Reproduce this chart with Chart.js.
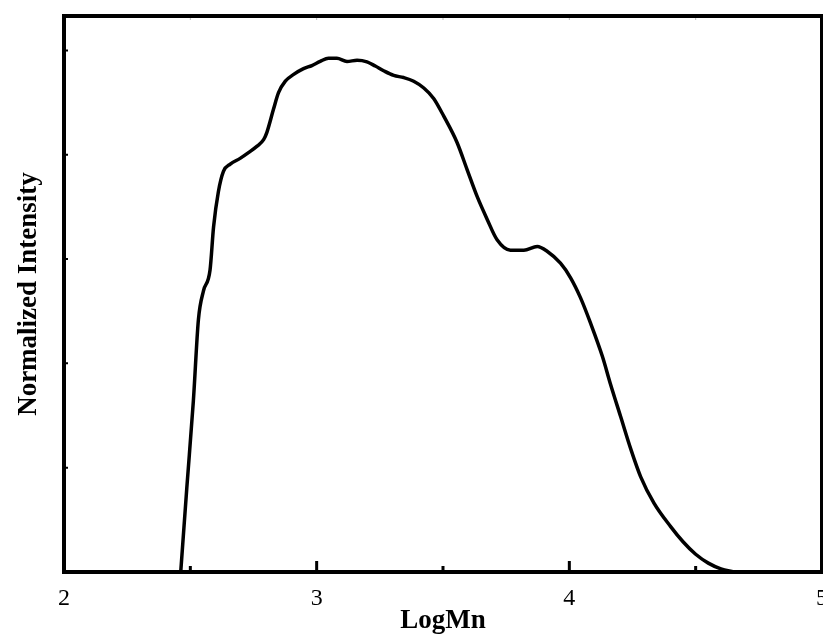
<!DOCTYPE html>
<html lang="en">
<head>
<meta charset="UTF-8">
<title>Normalized Intensity vs LogMn</title>
<script src="https://cdn.jsdelivr.net/npm/chart.js@4.4.0/dist/chart.umd.min.js"></script>
<style>
  html, body { margin: 0; padding: 0; background: #fff; overflow: hidden; }
  #wrap { width: 840px; height: 635px; }
</style>
</head>
<body>
<div id="wrap"><canvas id="gpc" width="840" height="635"></canvas></div>
<script>
// values
const logMn = [2.462, 2.486, 2.512, 2.532, 2.552, 2.578, 2.592, 2.611, 2.631, 2.658, 2.697, 2.730, 2.763, 2.790,
  2.803, 2.829, 2.849, 2.876, 2.909, 2.948, 2.981, 3.014, 3.047, 3.080, 3.120, 3.160, 3.199, 3.232, 3.265,
  3.305, 3.344, 3.384, 3.424, 3.463, 3.503, 3.556, 3.595, 3.635, 3.675, 3.714, 3.767, 3.820, 3.873, 3.912,
  3.965, 4.005, 4.044, 4.084, 4.131, 4.163, 4.203, 4.243, 4.282, 4.335, 4.401, 4.45, 4.50, 4.55, 4.60, 4.65];
const intensity = [0, 0.161, 0.328, 0.484, 0.539, 0.579, 0.662, 0.729, 0.768, 0.782, 0.793, 0.804, 0.816, 0.829,
  0.843, 0.887, 0.919, 0.941, 0.954, 0.965, 0.971, 0.979, 0.985, 0.985, 0.979, 0.981, 0.978, 0.970, 0.961,
  0.952, 0.948, 0.941, 0.928, 0.908, 0.874, 0.823, 0.772, 0.720, 0.676, 0.637, 0.617, 0.617, 0.624, 0.615,
  0.592, 0.564, 0.526, 0.477, 0.413, 0.360, 0.298, 0.236, 0.183, 0.132, 0.087, 0.058, 0.034, 0.017, 0.006, 0];

const xMajorTicks = [3, 4];
const xMinorTicks = [2.5, 3.5, 4.5];
const yTicks = [0.2, 0.4, 0.6, 0.8, 1.0];

const serif = "'Liberation Serif', 'Times New Roman', serif";

// box around the plot + inward tick marks
const framePlugin = {
  id: 'frame',
  afterDatasetsDraw(chart) {
    const { ctx, chartArea: a } = chart;
    const x = chart.scales.x, y = chart.scales.y;
    ctx.save();
    ctx.strokeStyle = '#000';

    ctx.lineWidth = 3;
    ctx.beginPath();
    xMajorTicks.forEach(v => {
      const px = x.getPixelForValue(v);
      ctx.moveTo(px, a.bottom); ctx.lineTo(px, a.bottom - 11);
    });
    xMinorTicks.forEach(v => {
      const px = x.getPixelForValue(v);
      ctx.moveTo(px, a.bottom); ctx.lineTo(px, a.bottom - 6);
    });
    ctx.stroke();

    ctx.lineWidth = 2;
    ctx.beginPath();
    yTicks.forEach(v => {
      const py = y.getPixelForValue(v);
      ctx.moveTo(a.left, py); ctx.lineTo(a.left + 4, py);
    });
    ctx.stroke();

    ctx.lineWidth = 1;
    ctx.strokeStyle = '#bbb';
    ctx.beginPath();
    [2.5, 3, 3.5, 4, 4.5].forEach(v => {
      const px = x.getPixelForValue(v);
      ctx.moveTo(px, a.top); ctx.lineTo(px, a.top + 4);
    });
    ctx.stroke();

    ctx.strokeStyle = '#000';
    ctx.lineWidth = 4;
    ctx.strokeRect(a.left, a.top, a.right - a.left, a.bottom - a.top);
    ctx.restore();
  }
};

new Chart(document.getElementById('gpc'), {
  type: 'line',
  data: {
    datasets: [{
      data: logMn.map((v, i) => ({ x: v, y: intensity[i] })),
      borderColor: '#000',
      borderWidth: 3.5,
      pointRadius: 0,
      fill: false,
      cubicInterpolationMode: 'monotone'
    }]
  },
  options: {
    responsive: false,
    animation: false,
    layout: { padding: { top: 16, right: 0, bottom: 0, left: 0 } },
    plugins: { legend: { display: false }, tooltip: { enabled: false } },
    scales: {
      x: {
        type: 'linear',
        min: 2,
        max: 5,
        grid: { display: false, drawTicks: false },
        border: { display: false },
        ticks: { stepSize: 1, color: '#000', padding: 12, font: { family: serif, size: 24 } },
        title: {
          display: true, text: 'LogMn', color: '#000',
          font: { family: serif, size: 27, weight: 'bold', lineHeight: 1.0 },
          padding: { top: 0, bottom: 0 }
        },
        afterFit(scale) { scale.height = 63; }
      },
      y: {
        min: 0,
        max: 1.066,
        grid: { display: false, drawTicks: false },
        border: { display: false },
        ticks: { display: false },
        title: {
          display: true, text: 'Normalized Intensity', color: '#000',
          font: { family: serif, size: 27, weight: 'bold', lineHeight: 1.2 },
          padding: { top: 13, bottom: 0 }
        },
        afterFit(scale) { scale.width = 64; }
      }
    }
  },
  plugins: [framePlugin]
});
</script>
</body>
</html>
